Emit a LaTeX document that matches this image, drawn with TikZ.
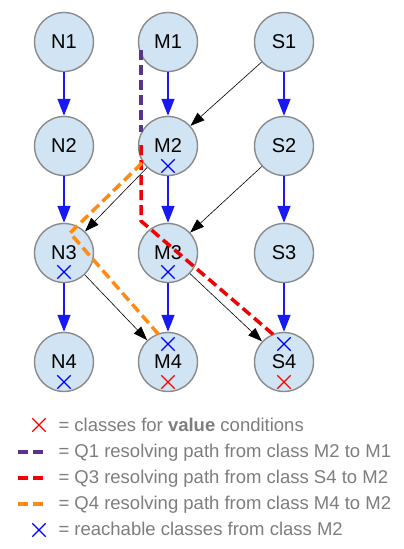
\documentclass[tikz,border=0pt]{standalone}
\usepackage{fontspec}
\setmainfont{Liberation Sans}
\usetikzlibrary{arrows.meta,shapes.misc}
\definecolor{clsfill}{RGB}{208,228,244}
\definecolor{clsline}{RGB}{138,138,138}
\definecolor{subblue}{RGB}{25,25,245}
\definecolor{qpurple}{RGB}{88,52,140}
\definecolor{qred}{RGB}{240,0,0}
\definecolor{qorange}{RGB}{255,138,20}
\definecolor{lggray}{RGB}{125,125,125}
\begin{document}
\begin{tikzpicture}[x=1pt, y=-1pt,
    cls/.style = {circle, draw=clsline, fill=clsfill, line width=1.4pt, minimum size=59pt, inner sep=0pt, font=\fontsize{20}{24}\selectfont},
    sub/.style = {draw=subblue, line width=1.5pt, -{Triangle[length=17pt, width=13pt]}},
    ref/.style = {draw=black, line width=0.6pt, -{Triangle[length=14pt, width=10pt]}},
    bx/.style = {cross out, draw=blue, line width=1.4pt, minimum size=12pt, inner sep=0pt},
    rx/.style = {bx, draw=red},
    qpath/.style = {line width=3.5pt, dash pattern=on 10pt off 5pt},
    lg/.style = {anchor=base west, text=lggray, font=\fontsize{18.5}{22}\selectfont}]
    \useasboundingbox (0,0) rectangle (404,549);
    % classes
    \node[cls] (N1) at (64,42) {N1};
    \node[cls] (M1) at (168,42) {M1};
    \node[cls] (S1) at (284,42) {S1};
    \node[cls] (N2) at (64,146) {N2};
    \node[cls] (M2) at (168,146) {M2};
    \node[cls] (S2) at (284,146) {S2};
    \node[cls] (N3) at (64,253) {N3};
    \node[cls] (M3) at (168,253) {M3};
    \node[cls] (S3) at (284,253) {S3};
    \node[cls] (N4) at (64,362) {N4};
    \node[cls] (M4) at (168,362) {M4};
    \node[cls] (S4) at (284,362) {S4};
    % subclass edges
    \foreach \c in {N,M,S} {
        \draw[sub] (\c1) -- (\c2);
        \draw[sub] (\c2) -- (\c3);
        \draw[sub] (\c3) -- (\c4);
    }
    % other edges
    \draw[ref] (S1) -- (M2);
    \draw[ref] (M2) -- (N3);
    \draw[ref] (S2) -- (M3);
    \draw[ref] (N3) -- (M4);
    \draw[ref] (M3) -- (S4);
    % marks
    \node[bx] (xM2) at (168,166) {};
    \node[bx] (xN3) at (64,272) {};
    \node[bx] (xM3) at (168,272) {};
    \node[bx] (xN4) at (64,382) {};
    \node[bx] (xM4) at (168,344) {};
    \node[rx] (rM4) at (168,382) {};
    \node[bx] (xS4) at (284,344) {};
    \node[rx] (rS4) at (284,382) {};
    % resolving paths
    \coordinate (q1a) at (141,50);
    \coordinate (q1b) at (141,132);
    \coordinate (q3a) at (141,145);
    \coordinate (q3b) at (141,221);
    \coordinate (q3c) at (275,336);
    \coordinate (q4a) at (142,163);
    \coordinate (q4b) at (70,233);
    \coordinate (q4c) at (160,336);
    \draw[qpath, qpurple] (q1a) -- (q1b);
    \draw[qpath, qred] (q3a) -- (q3b) -- (q3c);
    \draw[qpath, qorange] (q4a) -- (q4b) -- (q4c);
    % legend
    \node[rx] (lx1) at (39,425) {};
    \node[lg] (lg1) at (55,431) {= classes for \textbf{value} conditions};
    \coordinate (l2a) at (18,452);
    \coordinate (l2b) at (44,452);
    \draw[qpath, line width=4pt, qpurple] (l2a) -- (l2b);
    \node[lg] (lg2) at (55,457.5) {= Q1 resolving path from class M2 to M1};
    \coordinate (l3a) at (18,478);
    \coordinate (l3b) at (44,478);
    \draw[qpath, line width=4pt, qred] (l3a) -- (l3b);
    \node[lg] (lg3) at (55,483.5) {= Q3 resolving path from class S4 to M2};
    \coordinate (l4a) at (18,504);
    \coordinate (l4b) at (44,504);
    \draw[qpath, line width=4pt, qorange] (l4a) -- (l4b);
    \node[lg] (lg4) at (55,509.5) {= Q4 resolving path from class M4 to M2};
    \node[bx] (lx5) at (39,530) {};
    \node[lg] (lg5) at (55,535.5) {= reachable classes from class M2};
\end{tikzpicture}
\end{document}
